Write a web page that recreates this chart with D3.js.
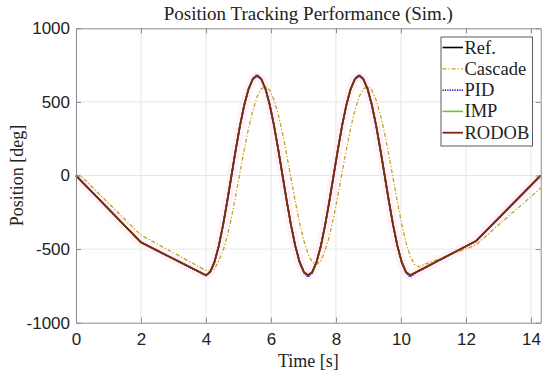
<!DOCTYPE html>
<html lang="en">
<head>
<meta charset="UTF-8">
<title>Position Tracking Performance (Sim.)</title>
<script src="https://d3js.org/d3.v7.min.js"></script>
<style>
  body { margin: 0; background: #fff; }
  svg { display: block; }
  .tick-label { font-family: "Liberation Sans", Arial, sans-serif; font-size: 17px; fill: #222; }
  .serif { font-family: "Liberation Serif", "Times New Roman", serif; fill: #222; }
</style>
</head>
<body>
<svg id="chart" width="550" height="378"></svg>
<script>
// time samples [s]
const time = [0, 0.15, 2,
  4.000, 4.131, 4.262, 4.393, 4.524, 4.654, 4.785, 4.916, 5.047, 5.178, 5.309, 5.440,
  5.571, 5.702, 5.833, 5.963, 6.094, 6.225, 6.356, 6.487, 6.618, 6.749, 6.880, 7.011,
  7.142, 7.273, 7.403, 7.534, 7.665, 7.796, 7.927, 8.058, 8.189, 8.320, 8.451, 8.582,
  8.712, 8.843, 8.974, 9.105, 9.236, 9.367, 9.498, 9.629, 9.760, 9.891, 10.021, 10.152,
  10.283, 10.414, 10.545, 12.31, 14.3];

// position [deg]
const refPos = [0, -34, -454,
  -678, -655, -587, -479, -339, -175, 0, 175, 339, 479, 587, 655,
  678, 655, 587, 479, 339, 175, 0, -175, -339, -479, -587, -655,
  -678, -655, -587, -479, -339, -175, 0, 175, 339, 479, 587, 655,
  678, 655, 587, 479, 339, 175, 0, -175, -339, -479, -587, -655,
  -678, -663, -648, -445, 0];

const cascadePos = [0, -3, -405,
  -645, -655, -635, -579, -513, -413, -284, -136, 21, 177, 321, 442,
  534, 589, 604, 579, 513, 413, 284, 136, -21, -177, -321, -442,
  -534, -589, -604, -579, -513, -413, -284, -136, 21, 177, 321, 442,
  534, 589, 604, 579, 513, 413, 284, 136, -21, -181, -329, -453,
  -547, -604, -620, -471, -85];

const pidPos = [0, -34, -454,
  -680, -655, -587, -479, -339, -175, 0, 175, 339, 479, 587, 660,
  686, 660, 587, 479, 339, 175, 0, -175, -339, -479, -587, -662,
  -690, -662, -587, -479, -339, -175, 0, 175, 339, 479, 587, 660,
  686, 660, 587, 479, 339, 175, 0, -175, -339, -479, -587, -662,
  -690, -668, -650, -445, 0];

const impPos = [0, -34, -454,
  -678, -655, -587, -479, -339, -175, 0, 175, 339, 479, 587, 655,
  678, 655, 587, 479, 339, 175, 0, -175, -339, -479, -587, -655,
  -678, -655, -587, -479, -339, -175, 0, 175, 339, 479, 587, 655,
  678, 655, 587, 479, 339, 175, 0, -175, -339, -479, -587, -655,
  -678, -663, -648, -445, 0];

const rodobPos = [0, -34, -454,
  -678, -655, -587, -479, -339, -175, 0, 175, 339, 479, 587, 655,
  678, 655, 587, 479, 339, 175, 0, -175, -339, -479, -587, -655,
  -678, -655, -587, -479, -339, -175, 0, 175, 339, 479, 587, 655,
  678, 655, 587, 479, 339, 175, 0, -175, -339, -479, -587, -655,
  -678, -663, -648, -445, 0];

const xTicks = [0, 2, 4, 6, 8, 10, 12, 14];
const yTicks = [-1000, -500, 0, 500, 1000];
const seriesNames = ["Ref.", "Cascade", "PID", "IMP", "RODOB"];

const series = [
  { name: "Ref.", values: refPos, color: "#000000", width: 1.6, dash: null },
  { name: "Cascade", values: cascadePos, color: "#c9a020", width: 1.3, dash: "4,2,1.2,2" },
  { name: "PID", values: pidPos, color: "#1a1ad0", width: 1.6, dash: "1.2,1.2" },
  { name: "IMP", values: impPos, color: "#6cc62a", width: 1.6, dash: null },
  { name: "RODOB", values: rodobPos, color: "#7e2612", width: 1.8, dash: null }
];

const margin = { left: 76, right: 9.3, top: 28.3, bottom: 55.3 };
const W = 550, H = 378;
const svg = d3.select("#chart");

const x = d3.scaleLinear().domain([0, 14.3]).range([margin.left, W - margin.right]);
const y = d3.scaleLinear().domain([-1000, 1000]).range([H - margin.bottom, margin.top]);

// grid
svg.append("g").selectAll("line").data(xTicks.filter(d => d > 0)).enter().append("line")
  .attr("x1", d => x(d)).attr("x2", d => x(d))
  .attr("y1", y(-1000)).attr("y2", y(1000))
  .attr("stroke", "#e6e6e6").attr("stroke-width", 1);
svg.append("g").selectAll("line").data(yTicks.filter(d => d > -1000 && d < 1000)).enter().append("line")
  .attr("x1", x(0)).attr("x2", x(14.3))
  .attr("y1", d => y(d)).attr("y2", d => y(d))
  .attr("stroke", "#e6e6e6").attr("stroke-width", 1);

const line = values => d3.line()
  .x((d, i) => x(time[i]))
  .y(d => y(d))(values);

// faint halo around the curves
svg.append("path")
  .attr("d", line(rodobPos))
  .attr("fill", "none")
  .attr("stroke", "#fde8f6")
  .attr("stroke-width", 9)
  .attr("stroke-linejoin", "round")
  .attr("opacity", 0.6);

// series
series.forEach(s => {
  svg.append("path")
    .attr("d", line(s.values))
    .attr("fill", "none")
    .attr("stroke", s.color)
    .attr("stroke-width", s.width)
    .attr("stroke-dasharray", s.dash)
    .attr("stroke-linejoin", "round");
});

// axes
const axisColor = "#8a8a8a";
const fmt = d => String(d);
const xAxis = svg.append("g").attr("transform", `translate(0,${y(-1000)})`)
  .call(d3.axisBottom(x).tickValues(xTicks).tickFormat(fmt).tickSizeInner(-5).tickSizeOuter(0).tickPadding(10));
const xTop = svg.append("g").attr("transform", `translate(0,${y(1000)})`)
  .call(d3.axisTop(x).tickValues(xTicks).tickSizeInner(-5).tickSizeOuter(0).tickFormat(""));
const yAxis = svg.append("g").attr("transform", `translate(${x(0)},0)`)
  .call(d3.axisLeft(y).tickValues(yTicks).tickFormat(fmt).tickSizeInner(-5).tickSizeOuter(0).tickPadding(6));
const yRight = svg.append("g").attr("transform", `translate(${x(14.3)},0)`)
  .call(d3.axisRight(y).tickValues(yTicks).tickSizeInner(-5).tickSizeOuter(0).tickFormat(""));

[xAxis, xTop, yAxis, yRight].forEach(g => {
  g.select(".domain").attr("stroke", axisColor).attr("stroke-width", 1);
  g.selectAll(".tick line").attr("stroke", axisColor);
  g.selectAll(".tick text").attr("class", "tick-label").attr("fill", "#222");
});
xAxis.selectAll(".tick text").attr("dy", "0.71em");

// titles
svg.append("text").attr("class", "serif")
  .attr("x", (x(0) + x(14.3)) / 2).attr("y", 20)
  .attr("text-anchor", "middle").attr("font-size", 19)
  .text("Position Tracking Performance (Sim.)");
svg.append("text").attr("class", "serif")
  .attr("x", (x(0) + x(14.3)) / 2).attr("y", 367)
  .attr("text-anchor", "middle").attr("font-size", 18)
  .text("Time [s]");
svg.append("text").attr("class", "serif")
  .attr("transform", `translate(23,${(y(1000) + y(-1000)) / 2}) rotate(-90)`)
  .attr("text-anchor", "middle").attr("font-size", 18)
  .text("Position [deg]");

// legend
const lg = svg.append("g").attr("transform", "translate(441,37)");
lg.append("rect").attr("width", 91.5).attr("height", 109)
  .attr("fill", "#fff").attr("stroke", "#333").attr("stroke-width", 0.8);
seriesNames.forEach((name, i) => {
  const s = series.find(d => d.name === name);
  const yy = 10.5 + i * 21.3;
  lg.append("line").attr("x1", 1.5).attr("x2", 22).attr("y1", yy).attr("y2", yy)
    .attr("stroke", s.color).attr("stroke-width", s.width).attr("stroke-dasharray", s.dash);
  lg.append("text").attr("class", "serif").attr("x", 23.5).attr("y", yy + 6)
    .attr("font-size", 18.5).text(name);
});
</script>
</body>
</html>
